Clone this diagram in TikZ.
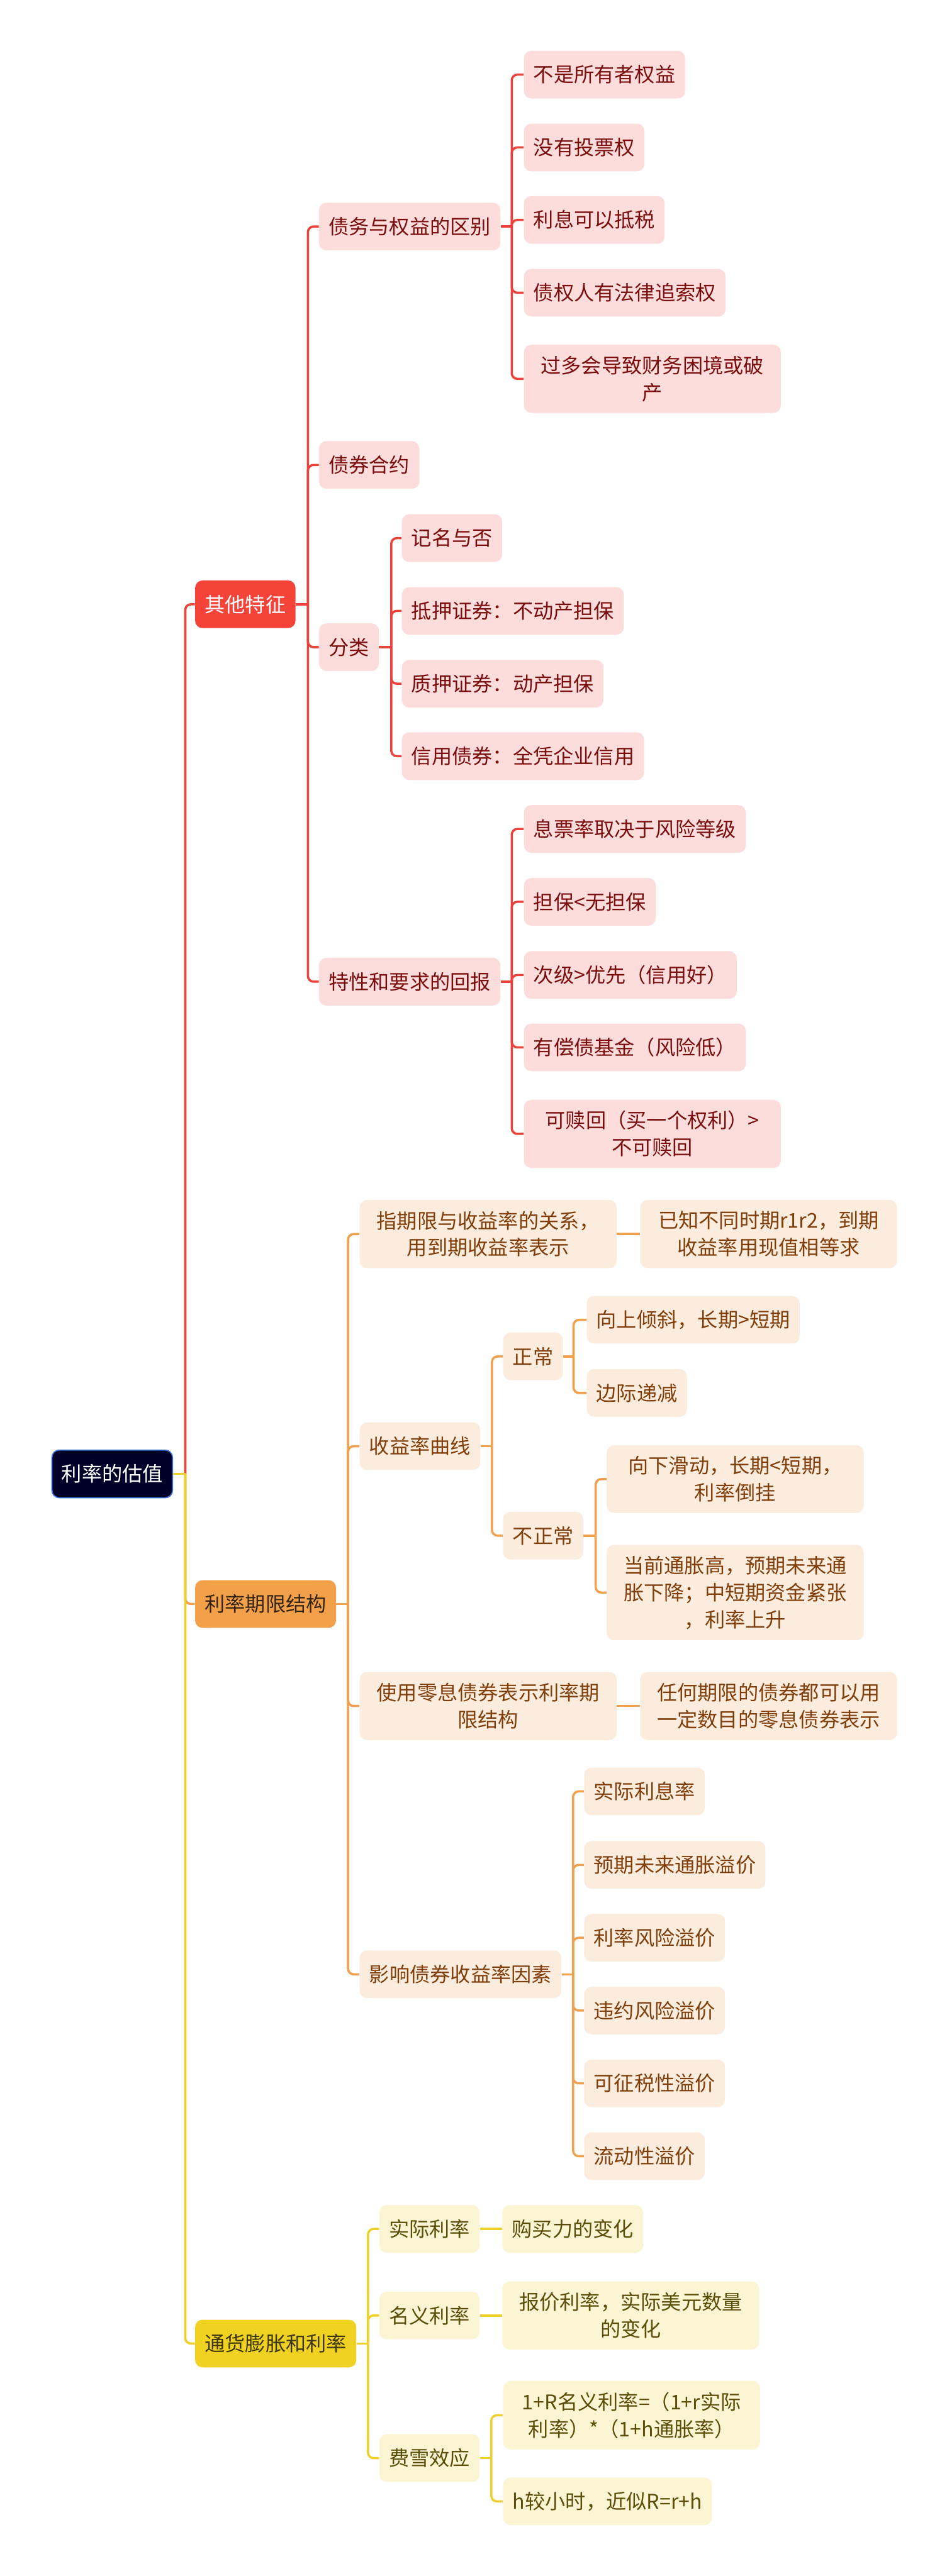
\documentclass[tikz,border=0pt]{standalone}
\usepackage{fontspec}
\setmainfont{Noto Sans CJK SC}
\usepackage{tikz}
\usetikzlibrary{positioning}
\definecolor{rootnavy}{RGB}{0,0,40}
\definecolor{rootedge}{RGB}{58,116,218}
\definecolor{redline}{RGB}{236,66,58}
\definecolor{redmain}{RGB}{245,67,58}
\definecolor{redfill}{RGB}{253,220,220}
\definecolor{redtext}{RGB}{122,14,14}
\definecolor{orangeline}{RGB}{241,160,78}
\definecolor{orangemain}{RGB}{243,160,75}
\definecolor{orangefill}{RGB}{252,236,222}
\definecolor{orangetext}{RGB}{128,62,10}
\definecolor{yellowline}{RGB}{238,208,40}
\definecolor{yellowmain}{RGB}{240,210,35}
\definecolor{yellowfill}{RGB}{252,245,212}
\definecolor{yellowtext}{RGB}{90,78,8}
\newcommand{\mapfont}{\fontsize{15.6pt}{20.8pt}\selectfont}

\begin{document}
\begin{tikzpicture}[
    box/.style={rectangle, rounded corners=0.2cm, inner xsep=0.26cm, inner ysep=0.3cm, minimum height=1.29cm, align=center, anchor=west, font=\mapfont},
    rootbox/.style={box, fill=rootnavy, draw=rootedge, line width=0.03cm, text=white},
    mainred/.style={box, fill=redmain, text=white},
    leafred/.style={box, fill=redfill, text=redtext},
    mainorange/.style={box, fill=orangemain, text={rgb,255:red,52;green,36;blue,18}},
    leaforange/.style={box, fill=orangefill, text=orangetext},
    mainyellow/.style={box, fill=yellowmain, text={rgb,255:red,62;green,54;blue,12}},
    leafyellow/.style={box, fill=yellowfill, text=yellowtext},
    wide/.style={minimum width=6.95cm},
    link/.style={line width=0.06cm, rounded corners=0.15cm},
    redlink/.style={link, redline},
    orangelink/.style={link, orangeline},
    yellowlink/.style={link, yellowline},
]
\useasboundingbox (0,0) rectangle (25.6,-69.7);

% root and main branches
\node[rootbox] (root) at (1.39,-39.88) {利率的估值};
\node[mainred] (qita) at (5.27,-16.35) {其他特征};
\node[mainorange] (qixian) at (5.27,-43.40) {利率期限结构};
\node[mainyellow] (tonghuo) at (5.27,-63.41) {通货膨胀和利率};

% 其他特征
\node[leafred] (qubie) at (8.62,-6.13) {债务与权益的区别};
\node[leafred] (heyue) at (8.62,-12.58) {债券合约};
\node[leafred] (fenlei) at (8.62,-17.51) {分类};
\node[leafred] (huibao) at (8.62,-26.56) {特性和要求的回报};

\node[leafred] (suoyou) at (14.16,-2.02) {不是所有者权益};
\node[leafred] (toupiao) at (14.16,-3.99) {没有投票权};
\node[leafred] (dishui) at (14.16,-5.95) {利息可以抵税};
\node[leafred] (zhuisuo) at (14.16,-7.92) {债权人有法律追索权};
\node[leafred, wide] (pochan) at (14.16,-10.25) {过多会导致财务困境或破\\产};

\node[leafred] (jiming) at (10.86,-14.56) {记名与否};
\node[leafred] (diya) at (10.86,-16.53) {抵押证券：不动产担保};
\node[leafred] (zhiya) at (10.86,-18.50) {质押证券：动产担保};
\node[leafred] (xinyong) at (10.86,-20.46) {信用债券：全凭企业信用};

\node[leafred] (xipiao) at (14.16,-22.43) {息票率取决于风险等级};
\node[leafred] (danbao) at (14.16,-24.40) {担保<无担保};
\node[leafred] (ciji) at (14.16,-26.38) {次级>优先（信用好）};
\node[leafred] (changzhai) at (14.16,-28.34) {有偿债基金（风险低）};
\node[leafred, wide] (shuhui) at (14.16,-30.68) {可赎回（买一个权利）>\\不可赎回};

% 利率期限结构
\node[leaforange, wide] (zhiqi) at (9.72,-33.39) {指期限与收益率的关系，\\用到期收益率表示};
\node[leaforange, wide, right=0.62cm of zhiqi] (yizhi) {已知不同时期r1r2，到期\\收益率用现值相等求};
\node[leaforange] (quxian) at (9.72,-39.13) {收益率曲线};
\node[leaforange, wide] (lingxi) at (9.72,-46.16) {使用零息债券表示利率期\\限结构};
\node[leaforange, wide, right=0.62cm of lingxi] (renhe) {任何期限的债券都可以用\\一定数目的零息债券表示};
\node[leaforange] (yingxiang) at (9.72,-53.42) {影响债券收益率因素};

\node[leaforange] (zhengchang) at (13.60,-36.70) {正常};
\node[leaforange] (buzheng) at (13.60,-41.55) {不正常};
\node[leaforange] (xiangshang) at (15.86,-35.71) {向上倾斜，长期>短期};
\node[leaforange] (dijian) at (15.86,-37.69) {边际递减};
\node[leaforange, wide] (daogua) at (16.40,-40.02) {向下滑动，长期<短期，\\利率倒挂};
\node[leaforange, wide] (shangsheng) at (16.40,-43.09) {当前通胀高，预期未来通\\胀下降；中短期资金紧张\\，利率上升};

\node[leaforange] (lixilv) at (15.79,-48.47) {实际利息率};
\node[leaforange] (tongzhang) at (15.79,-50.46) {预期未来通胀溢价};
\node[leaforange] (fengxian) at (15.79,-52.43) {利率风险溢价};
\node[leaforange] (weiyue) at (15.79,-54.40) {违约风险溢价};
\node[leaforange] (zhengshui) at (15.79,-56.37) {可征税性溢价};
\node[leaforange] (liudong) at (15.79,-58.34) {流动性溢价};

% 通货膨胀和利率
\node[leafyellow] (shiji) at (10.25,-60.31) {实际利率};
\node[leafyellow, right=0.6cm of shiji] (goumai) {购买力的变化};
\node[leafyellow] (mingyi) at (10.25,-62.65) {名义利率};
\node[leafyellow, wide, right=0.6cm of mingyi] (baojia) {报价利率，实际美元数量\\的变化};
\node[leafyellow] (feixue) at (10.25,-66.51) {费雪效应};
\node[leafyellow, wide] (gongshi) at (13.60,-65.35) {1+R名义利率=（1+r实际\\利率）*（1+h通胀率）};
\node[leafyellow] (jinsi) at (13.60,-67.68) {h较小时，近似R=r+h};

% junctions
\coordinate (jroot) at ([xshift=0.33cm]root.east);
\coordinate (jqita) at ([xshift=0.33cm]qita.east);
\coordinate (jqubie) at ([xshift=0.30cm]qubie.east);
\coordinate (jfenlei) at ([xshift=0.33cm]fenlei.east);
\coordinate (jhuibao) at ([xshift=0.30cm]huibao.east);
\coordinate (jqixian) at ([xshift=0.32cm]qixian.east);
\coordinate (jquxian) at ([xshift=0.31cm]quxian.east);
\coordinate (jzheng) at ([xshift=0.28cm]zhengchang.east);
\coordinate (jbuzheng) at ([xshift=0.33cm]buzheng.east);
\coordinate (jying) at ([xshift=0.31cm]yingxiang.east);
\coordinate (jtong) at ([xshift=0.31cm]tonghuo.east);
\coordinate (jfei) at ([xshift=0.31cm]feixue.east);

% root connectors
\draw[orangelink] (jroot) |- (qixian.west);
\draw[redlink] (jroot) |- (qita.west);
\draw[yellowlink] (jroot) |- (tonghuo.west);
\draw[yellowlink] (root.east) -- (jroot);

% red branch
\draw[redlink] (qita.east) -- (jqita);
\draw[redlink] (jqita) |- (qubie.west);
\draw[redlink] (jqita) |- (heyue.west);
\draw[redlink] (jqita) |- (fenlei.west);
\draw[redlink] (jqita) |- (huibao.west);
\draw[redlink] (qubie.east) -- (jqubie);
\draw[redlink] (jqubie) |- (suoyou.west);
\draw[redlink] (jqubie) |- (toupiao.west);
\draw[redlink] (jqubie) |- (dishui.west);
\draw[redlink] (jqubie) |- (zhuisuo.west);
\draw[redlink] (jqubie) |- (pochan.west);
\draw[redlink] (fenlei.east) -- (jfenlei);
\draw[redlink] (jfenlei) |- (jiming.west);
\draw[redlink] (jfenlei) |- (diya.west);
\draw[redlink] (jfenlei) |- (zhiya.west);
\draw[redlink] (jfenlei) |- (xinyong.west);
\draw[redlink] (huibao.east) -- (jhuibao);
\draw[redlink] (jhuibao) |- (xipiao.west);
\draw[redlink] (jhuibao) |- (danbao.west);
\draw[redlink] (jhuibao) |- (ciji.west);
\draw[redlink] (jhuibao) |- (changzhai.west);
\draw[redlink] (jhuibao) |- (shuhui.west);

% orange branch
\draw[orangelink] (qixian.east) -- (jqixian);
\draw[orangelink] (jqixian) |- (zhiqi.west);
\draw[orangelink] (jqixian) |- (quxian.west);
\draw[orangelink] (jqixian) |- (lingxi.west);
\draw[orangelink] (jqixian) |- (yingxiang.west);
\draw[orangelink] (zhiqi) -- (yizhi);
\draw[orangelink] (lingxi) -- (renhe);
\draw[orangelink] (quxian.east) -- (jquxian);
\draw[orangelink] (jquxian) |- (zhengchang.west);
\draw[orangelink] (jquxian) |- (buzheng.west);
\draw[orangelink] (zhengchang.east) -- (jzheng);
\draw[orangelink] (jzheng) |- (xiangshang.west);
\draw[orangelink] (jzheng) |- (dijian.west);
\draw[orangelink] (buzheng.east) -- (jbuzheng);
\draw[orangelink] (jbuzheng) |- (daogua.west);
\draw[orangelink] (jbuzheng) |- (shangsheng.west);
\draw[orangelink] (yingxiang.east) -- (jying);
\draw[orangelink] (jying) |- (lixilv.west);
\draw[orangelink] (jying) |- (tongzhang.west);
\draw[orangelink] (jying) |- (fengxian.west);
\draw[orangelink] (jying) |- (weiyue.west);
\draw[orangelink] (jying) |- (zhengshui.west);
\draw[orangelink] (jying) |- (liudong.west);

% yellow branch
\draw[yellowlink] (tonghuo.east) -- (jtong);
\draw[yellowlink] (jtong) |- (shiji.west);
\draw[yellowlink] (jtong) |- (mingyi.west);
\draw[yellowlink] (jtong) |- (feixue.west);
\draw[yellowlink] (shiji) -- (goumai);
\draw[yellowlink] (mingyi) -- (baojia);
\draw[yellowlink] (feixue.east) -- (jfei);
\draw[yellowlink] (jfei) |- (gongshi.west);
\draw[yellowlink] (jfei) |- (jinsi.west);
\end{tikzpicture}
\end{document}
